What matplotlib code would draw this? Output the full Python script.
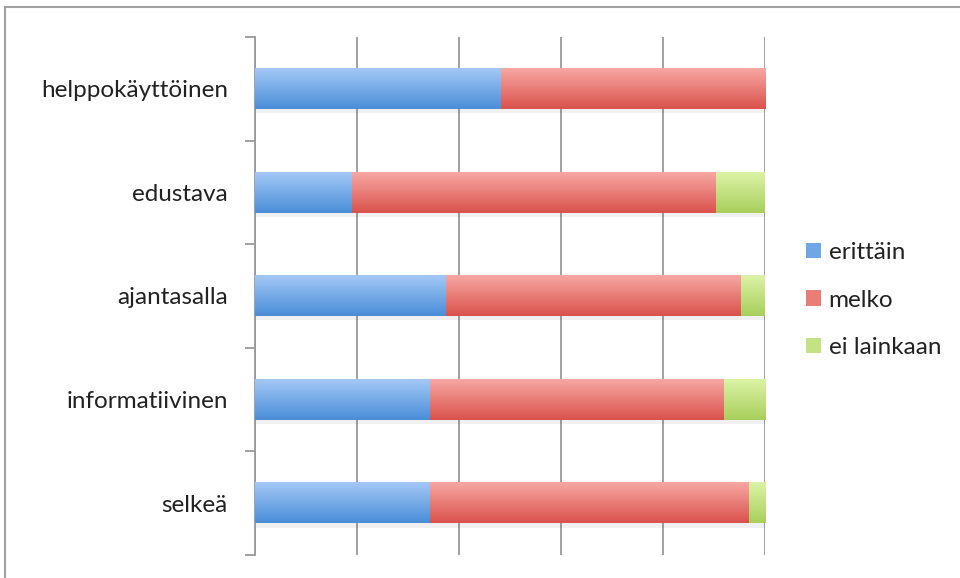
import numpy as np
import matplotlib
matplotlib.use("Agg")
import matplotlib.pyplot as plt
from matplotlib.colors import LinearSegmentedColormap
from matplotlib.patches import Rectangle
from matplotlib.lines import Line2D

plt.rcParams['font.family'] = ['Lato', 'DejaVu Sans']

categories = ["helppokäyttöinen", "edustava", "ajantasalla", "informatiivinen", "selkeä"]
series_names = ["erittäin", "melko", "ei lainkaan"]
erittain = [48.2, 19.0, 37.5, 34.3, 34.3]
melko = [51.8, 71.4, 57.8, 57.6, 62.5]
ei_lainkaan = [0.0, 9.6, 4.7, 8.1, 3.2]

series = [erittain, melko, ei_lainkaan]
tops = ["#a3c8f6", "#f7a7a3", "#dcf3a6"]
bottoms = ["#4a8ed8", "#da524c", "#a8cf5c"]
mids = ["#6fa7e6", "#ea7d78", "#c2e283"]

fig = plt.figure(figsize=(9.6, 5.78), dpi=100)
ax = fig.add_axes([255/960, 1-555/578, 510/960, (555-37)/578])

y = np.arange(len(categories))
h = 0.39
left = np.zeros(len(categories))
for vals, top, bot, mid, name in zip(series, tops, bottoms, mids, series_names):
    bars = ax.barh(y, vals, left=left, height=h, color=mid, label=name, zorder=3,
                   edgecolor='none')
    cmap = LinearSegmentedColormap.from_list("g", [top, bot])
    grad = np.linspace(0, 1, 64).reshape(-1, 1)
    for b in bars:
        x0, y0 = b.get_x(), b.get_y()
        w, hh = b.get_width(), b.get_height()
        if w <= 0:
            continue
        # shadow
        ax.add_patch(Rectangle((x0, y0 + hh), w, 0.04, color="#000000", alpha=0.06,
                               zorder=2, lw=0))
        ax.imshow(grad, cmap=cmap, aspect='auto', extent=(x0, x0 + w, y0 + hh, y0),
                  zorder=4, interpolation='bilinear')
    left = left + np.array(vals)

FS = 17.5
ax.set_xlim(0, 100)
ax.set_ylim(len(categories) - 0.5, -0.5)
ax.set_xticks([0, 20, 40, 60, 80, 100])
ax.xaxis.grid(True, color="#9a9a9a", lw=1.3, zorder=1)
ax.tick_params(axis='x', length=0, labelbottom=False)
ax.set_yticks(y)
ax.set_yticklabels(categories, fontsize=FS, color="#222222")
ax.tick_params(axis='y', which='major', length=0, pad=19.5)
ax.set_yticks(np.arange(-0.5, len(categories), 1), minor=True)
ax.tick_params(axis='y', which='minor', length=7, width=1.3, color="#9a9a9a")
for s in ['top', 'right', 'bottom']:
    ax.spines[s].set_visible(False)
ax.spines['left'].set_color("#9a9a9a")
ax.spines['left'].set_linewidth(1.3)
ax.set_facecolor('none')

handles = [Rectangle((0, 0), 1, 1, facecolor=m, edgecolor='none') for m in mids]
leg = fig.legend(handles, series_names, loc='upper left', bbox_to_anchor=(799/960, 1-235/578),
                 frameon=False, fontsize=FS, handlelength=0.6, handleheight=0.6,
                 handletextpad=0.32, labelspacing=1.08, borderaxespad=0, borderpad=0.3)
for t in leg.get_texts():
    t.set_color("#222222")

# figure border (left and top visible)
fig.add_artist(Line2D([5/960, 5/960], [0, 1-7/578], color="#a0a0a0", lw=1.5,
                      transform=fig.transFigure))
fig.add_artist(Line2D([5/960, 1], [1-7/578, 1-7/578], color="#a0a0a0", lw=1.5,
                      transform=fig.transFigure))

fig.savefig("out.png", dpi=100)
